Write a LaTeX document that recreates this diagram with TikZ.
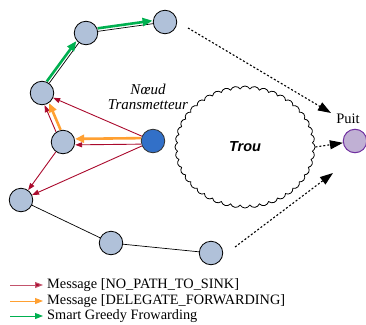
\documentclass[tikz,border=0pt]{standalone}
\usepackage{fontspec}
\setmainfont{Liberation Serif}
\newfontfamily\arialfont{Liberation Sans}
\usetikzlibrary{arrows.meta,shapes.symbols,calc}
\definecolor{nodefill}{RGB}{176,193,217}
\definecolor{txfill}{RGB}{50,112,200}
\definecolor{sinkfill}{RGB}{192,176,212}
\definecolor{sinkborder}{RGB}{112,48,160}
\definecolor{redarr}{RGB}{170,10,45}
\definecolor{orangearr}{RGB}{255,160,50}
\definecolor{greenarr}{RGB}{0,176,80}
\tikzset{
  sensor/.style={circle,draw=black,fill=nodefill,line width=0.8pt,minimum size=23.5pt,inner sep=0pt},
  txnode/.style={sensor,fill=txfill,draw=black!80},
  sinknode/.style={circle,draw=sinkborder,fill=sinkfill,line width=1pt,minimum size=23.5pt,inner sep=0pt},
  link/.style={draw=black,line width=0.7pt},
  redarrow/.style={draw=redarr,line width=0.9pt,-{Triangle[length=7pt,width=5pt]}},
  orangearrow/.style={draw=orangearr,line width=2.6pt,-{Triangle[length=9pt,width=8pt]}},
  greenarrow/.style={draw=greenarr,line width=2.6pt,-{Triangle[length=10pt,width=8pt]}},
  dotarrow/.style={draw=black,line width=1.1pt,dash pattern=on 2pt off 2pt,-{Triangle[length=13pt,width=9pt]}},
  legtext/.style={anchor=west,inner sep=0pt,font=\fontsize{14.3}{16}\selectfont},
}
\begin{document}
\begin{tikzpicture}[x=1pt,y=-1pt]
\useasboundingbox (0,0) rectangle (366,324);
% cloud
\node[cloud,draw=black,line width=0.8pt,cloud puffs=44,cloud puff arc=125,aspect=1.15,minimum width=140pt,minimum height=122pt,inner sep=0pt] (trou) at (245,147) {};
\node[font=\arialfont\bfseries\itshape\fontsize{14.5}{16}\selectfont] (troulbl) at (245,147) {Trou};
% nodes
\node[sensor] (A) at (86,33) {};
\node[sensor] (B) at (165,22) {};
\node[sensor] (C) at (42,93) {};
\node[sensor] (D) at (63,142) {};
\node[txnode] (E) at (153,141) {};
\node[sensor] (F) at (21,200) {};
\node[sensor] (G) at (111,243) {};
\node[sensor] (H) at (211,253) {};
\node[sinknode] (S) at (355,141) {};
\node[font=\fontsize{14.5}{16}\selectfont,anchor=south] (puit) at (348,127) {Puit};
\node[font=\itshape\fontsize{15}{16}\selectfont,align=center] (txlbl) at (148,97) {N\oe ud\\[-1pt]Transmetteur};
% black links
\draw[link] (A) -- (B);
\draw[link] (C) -- (A);
\draw[link] (F) -- (G);
\draw[link] (G) -- (H);
% green arrows (offset)
\draw[greenarrow,transform canvas={shift={(-2.4pt,1.8pt)}}] (C) -- (A);
\draw[greenarrow,transform canvas={shift={(-0.4pt,3pt)}}] (A) -- (B);
% red arrows
\draw[redarrow] (E) -- (C);
\draw[redarrow,transform canvas={shift={(0pt,-3pt)}}] (E) -- (D);
\draw[redarrow,transform canvas={shift={(-2.2pt,-1pt)}}] (D) -- (C);
\draw[redarrow] (D) -- (F);
\draw[redarrow] (E) -- (F);
% orange arrows
\draw[orangearrow,transform canvas={shift={(0pt,3pt)}}] (E) -- (D);
\draw[orangearrow,transform canvas={shift={(2.4pt,1pt)}}] (D) -- (C);
% dotted arrows
\coordinate (d1s) at (188,28);
\coordinate (d1e) at (331,113);
\coordinate (d3s) at (235,247);
\coordinate (d3e) at (333,173);
\draw[dotarrow] (d1s) -- (d1e);
\draw[dotarrow] (trou.east) -- (S);
\draw[dotarrow] (d3s) -- (d3e);
% legend
\coordinate (l1) at (10,285);
\coordinate (l2) at (10,301);
\coordinate (l3) at (10,316);
\node[legtext] (t1) at (47,285) {Message [NO\_PATH\_TO\_SINK]};
\node[legtext] (t2) at (47,301) {Message [DELEGATE\_FORWARDING]};
\node[legtext] (t3) at (47,316) {Smart Greedy Frowarding};
\draw[draw=redarr!70,line width=1pt,-{Triangle[length=8pt,width=6pt,fill=redarr]}] (l1) -- ([xshift=-4pt]t1.west);
\draw[draw=orangearr,line width=1pt,-{Triangle[length=8pt,width=6pt]}] (l2) -- ([xshift=-4pt]t2.west);
\draw[draw=greenarr,line width=1pt,-{Triangle[length=8pt,width=6pt]}] (l3) -- ([xshift=-4pt]t3.west);
\end{tikzpicture}
\end{document}
